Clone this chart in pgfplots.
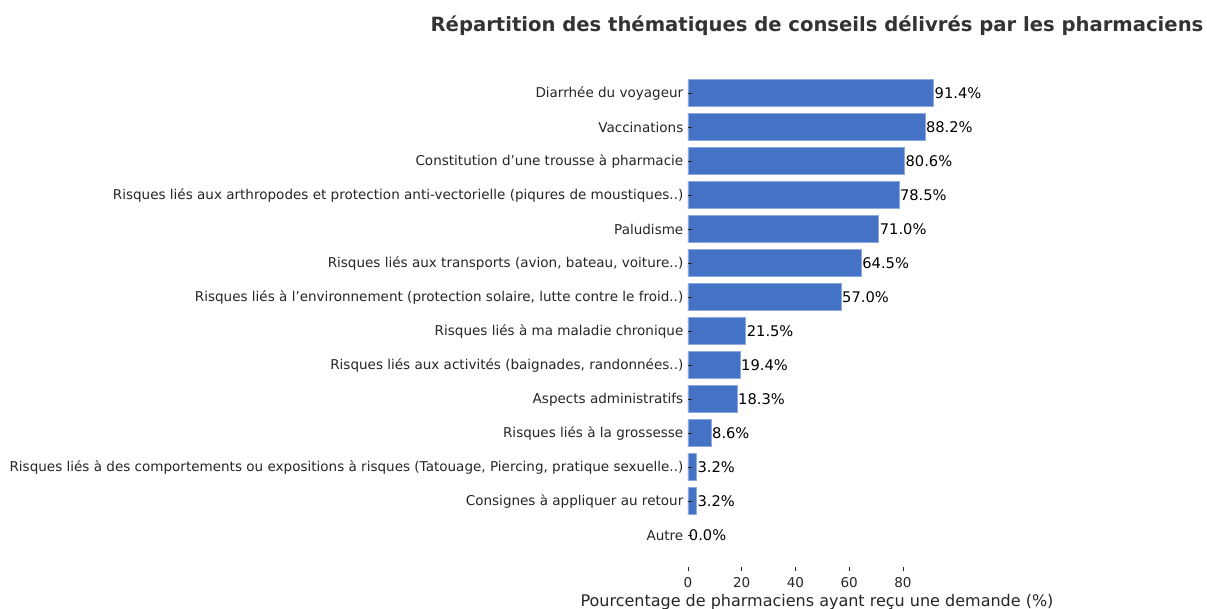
\documentclass[border=0pt]{standalone}
\usepackage{pgfplots}
\pgfplotsset{compat=1.18}
\usepackage{fontspec}
\setmainfont{DejaVu Sans}
\definecolor{barblue}{HTML}{4472C4}
\definecolor{baredge}{HTML}{8FA9DC}
\definecolor{txt}{HTML}{262626}
\definecolor{ttl}{HTML}{333333}
\begin{document}
\begin{tikzpicture}
\path[use as bounding box] (0,0) rectangle (905.25pt,456pt);
\begin{axis}[
  at={(516pt,27.75pt)}, anchor=south west,
  scale only axis, width=193.5pt, height=381.75pt,
  axis on top,
  xbar, bar width=0.8, bar shift=0pt,
  xmin=0, xmax=96, ymin=-0.91, ymax=14.06,
  y dir=reverse,
  ytick={0,...,13},
  yticklabels={
    Diarrhée du voyageur,
    Vaccinations,
    Constitution d’une trousse à pharmacie,
    Risques liés aux arthropodes et protection anti-vectorielle (piqures de moustiques..),
    Paludisme,
    Risques liés aux transports (avion{,} bateau{,} voiture..),
    Risques liés à l’environnement (protection solaire{,} lutte contre le froid..),
    Risques liés à ma maladie chronique,
    Risques liés aux activités (baignades{,} randonnées..),
    Aspects administratifs,
    Risques liés à la grossesse,
    Risques liés à des comportements ou expositions à risques (Tatouage{,} Piercing{,} pratique sexuelle..),
    Consignes à appliquer au retour,
    Autre},
  xtick={0,20,40,60,80},
  axis line style={draw=none},
  tick align=inside, tick pos=left,
  major tick length=3pt,
  tick style={draw=txt, line width=0.6pt},
  /pgf/number format/assume math mode=true,
  ticklabel style={font=\fontsize{10.15pt}{12pt}\selectfont, text=txt},
  yticklabel style={yshift=-0.6pt},
  xticklabel style={yshift=-1pt},
  xlabel={Pourcentage de pharmaciens ayant reçu une demande (\%)},
  xlabel style={font=\fontsize{12pt}{14pt}\selectfont, text=txt, yshift=1.5pt},
  title={Répartition des thématiques de conseils délivrés par les pharmaciens},
  title style={font=\fontsize{14.7pt}{17pt}\selectfont\bfseries, text=ttl, yshift=10pt},
  nodes near coords={\pgfmathprintnumber[fixed,fixed zerofill,precision=1]{\pgfplotspointmeta}\%},
  nodes near coords align={horizontal},
  every node near coord/.append style={font=\fontsize{11pt}{13pt}\selectfont, text=black, inner sep=0.5pt, anchor=west},
  point meta=x,
]
\addplot[fill=barblue, draw=baredge, line width=0.6pt] coordinates {
  (91.4,0) (88.2,1) (80.6,2) (78.5,3) (71.0,4) (64.5,5) (57.0,6)
  (21.5,7) (19.4,8) (18.3,9) (8.6,10) (3.2,11) (3.2,12)
};
\addplot[fill=none, draw=none] coordinates {(0.0,13)};
\end{axis}
\end{tikzpicture}
\end{document}
